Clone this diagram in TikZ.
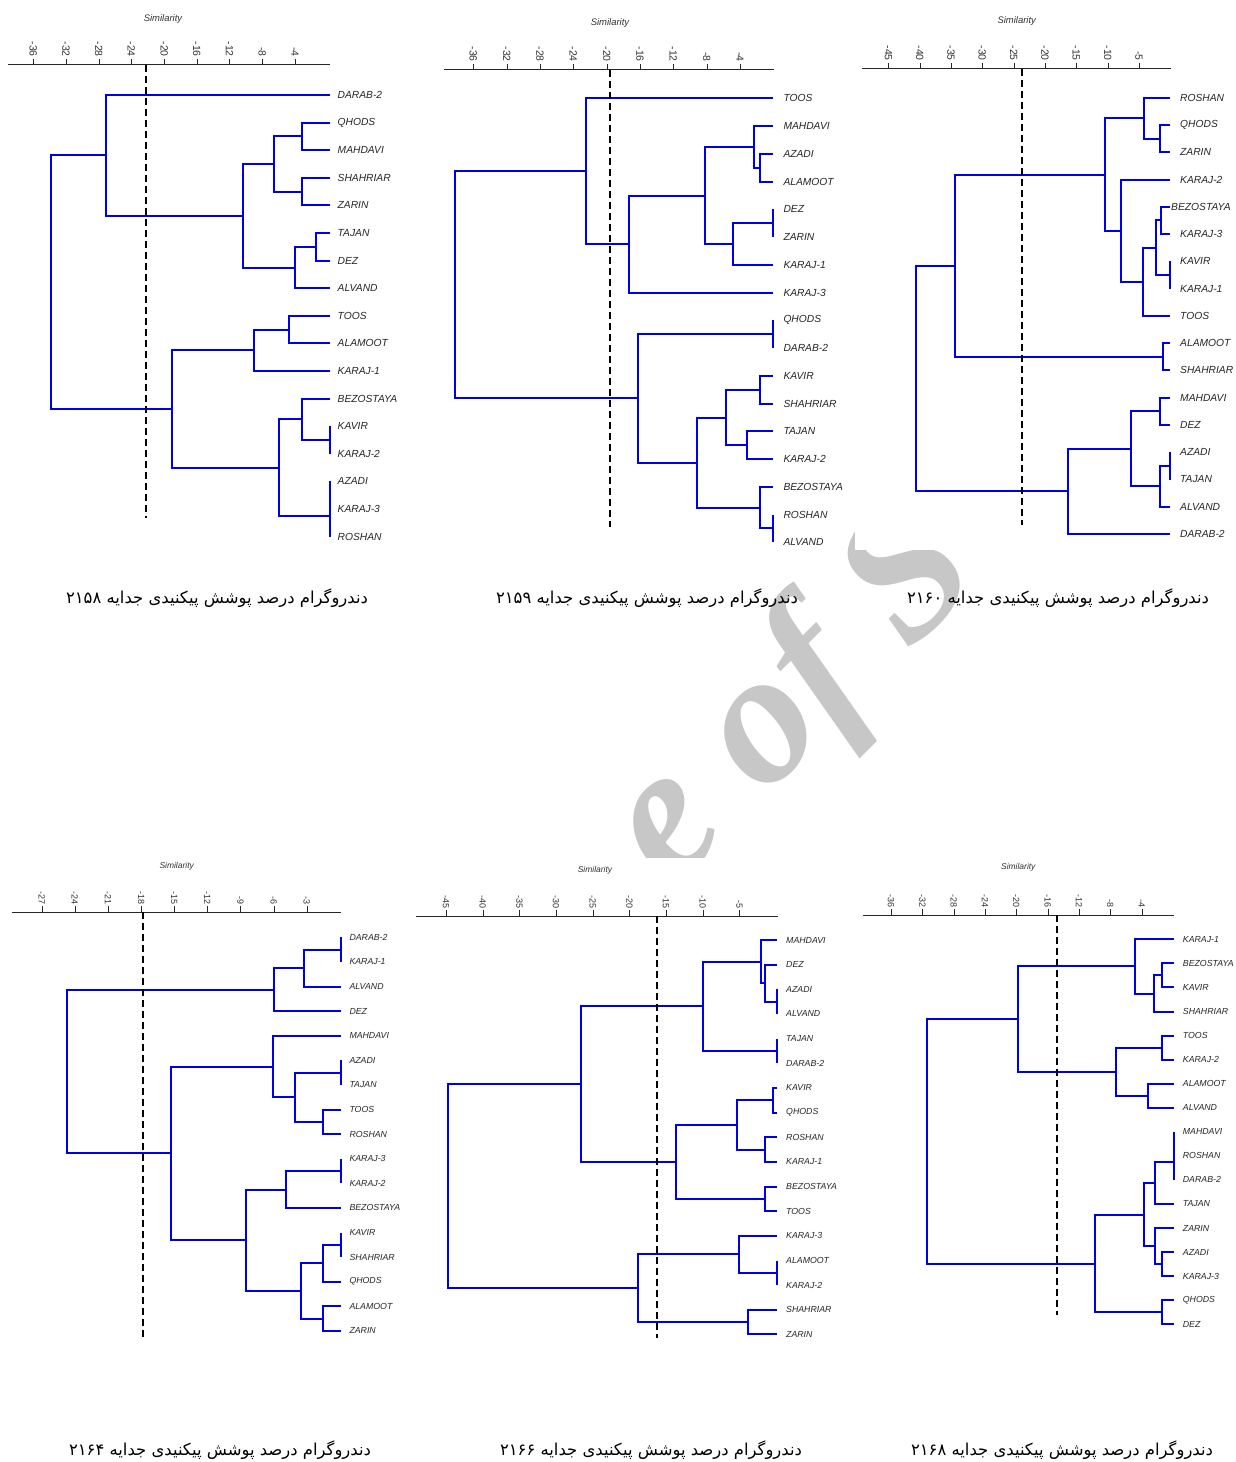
\documentclass[tikz,border=0pt]{standalone}
\usepackage{fontspec}
\usetikzlibrary{positioning}
\newfontfamily\lblfont{Liberation Sans}
\newfontfamily\markfont{Liberation Serif}
\newfontfamily\arabicfont[Script=Arabic]{DejaVu Sans}
\TeXXeTstate=1
\definecolor{TreeBlue}{RGB}{0,0,228}
\definecolor{LeafGray}{RGB}{38,38,38}
\tikzset{
  tree/.style={TreeBlue, line width=2bp},
  cutline/.style={black, line width=2bp, dash pattern=on 7bp off 4bp},
  axisline/.style={black!85, line width=1bp},
  leaf/.style={anchor=west, inner sep=0pt, text=LeafGray, font=\lblfont\itshape\fontsize{10.3}{12}\selectfont},
  leafsm/.style={leaf, font=\lblfont\itshape\fontsize{8.8}{10}\selectfont},
  ticklbl/.style={rotate=-90, anchor=east, inner sep=0pt, text=black!80, font=\lblfont\fontsize{10.5}{12}\selectfont},
  ticklblsm/.style={ticklbl, font=\lblfont\fontsize{9}{10}\selectfont},
  simtitle/.style={inner sep=0pt, text=black!80, font=\lblfont\itshape\fontsize{9.5}{11}\selectfont},
  caption/.style={inner sep=0pt, text=black, font=\arabicfont\fontsize{16.5}{18}\selectfont},
  wmark/.style={inner sep=0pt, rotate=45, anchor=base, text=black!22, font=\markfont\bfseries\itshape\fontsize{190}{190}\selectfont}
}

\begin{document}
\begin{tikzpicture}[x=1bp,y=-1bp]
\fill[white] (0,0) rectangle (1235,1462);
\useasboundingbox (0,0) rectangle (1235,1462);

% watermark, under the panels
\node[wmark] (mark1) at (701,861) {e};
\node[wmark] (mark2) at (820,742) {of};
\node[wmark] (mark3) at (947,615) {S};
\foreach \xa/\ya/\xb/\yb in {0/0/405/556, 440/6/840/556, 855/0/1235/550,
    0/855/412/1345, 420/858/840/1345, 855/855/1235/1345}
  \fill[white] (\xa,\ya) rectangle (\xb,\yb);

% ---- 2158 (top left)
\node[simtitle] (sim1) at (163,19) {Similarity};
\draw[axisline] (8,65) -- (330,65);
\foreach \v [count=\i from 0] in {-36,-32,-28,-24,-20,-16,-12,-8,-4} {
  \draw[axisline] ({round(33.3+\i*32.7)},59) -- ({round(33.3+\i*32.7)},65);
  \node[ticklbl] at ({33.3+\i*32.7},57) {\v};
}
\foreach \n [count=\i from 0] in {DARAB-2,QHODS,MAHDAVI,SHAHRIAR,ZARIN,TAJAN,DEZ,ALVAND,
    TOOS,ALAMOOT,KARAJ-1,BEZOSTAYA,KAVIR,KARAJ-2,AZADI,KARAJ-3,ROSHAN}
  \node[leaf] (a\i) at (337.5,{95+\i*27.6}) {\n};
\foreach \xa/\ya/\xm/\xb/\yb in {
    329.5/122.6/302.3/329.5/150.2, 329.5/177.8/302.3/329.5/205.4,
    302.3/136.4/274.3/302.3/191.6, 329.5/233/316/329.5/260.6,
    316/246.8/295/329.5/288.2, 274.3/164/242.7/295/267.5,
    329.5/95/106/242.7/215.8, 329.5/315.8/288.7/329.5/343.4,
    288.7/329.6/254.3/329.5/371, 329.5/426.2/329.5/329.5/453.8,
    329.5/398.6/302.3/329.5/440, 329.5/481.4/329.5/329.5/536.6,
    302.3/419.3/279.3/329.5/515.9, 254.3/350.3/172/279.3/467.6,
    106/155.4/50.7/172/409}
  \draw[tree] ({round(\xa)},{round(\ya)}) -| ({round(\xm)},{round(\yb)}) -- ({round(\xb)},{round(\yb)});
\draw[cutline] (146,65) -- (146,518);
\node[caption] (cap1) at (217,598) {\beginR دندروگرام درصد پوشش پیکنیدی جدایه \beginL۲۱۵۸\endL\endR};

% ---- 2159 (top middle)
\node[simtitle] (sim2) at (610,22.7) {Similarity};
\draw[axisline] (444,70) -- (774,70);
\foreach \v [count=\i from 0] in {-36,-32,-28,-24,-20,-16,-12,-8,-4} {
  \draw[axisline] ({round(473.3+\i*33.33)},64) -- ({round(473.3+\i*33.33)},70);
  \node[ticklbl] at ({473.3+\i*33.33},62) {\v};
}
\foreach \n [count=\i from 0] in {TOOS,MAHDAVI,AZADI,ALAMOOT,DEZ,ZARIN,KARAJ-1,KARAJ-3,
    QHODS,DARAB-2,KAVIR,SHAHRIAR,TAJAN,KARAJ-2,BEZOSTAYA,ROSHAN,ALVAND}
  \node[leaf] (b\i) at (783.3,{98.3+\i*27.75}) {\n};
\foreach \xa/\ya/\xm/\xb/\yb in {
    773.3/153.8/760/773.3/181.6, 773.3/126.1/754.3/760/167.7,
    773.3/209.3/773.3/773.3/237.1, 773.3/223.2/732.7/773.3/264.8,
    754.3/146.9/705/732.7/244, 705/195.5/629.3/773.3/292.6,
    773.3/98.3/586/629.3/244, 773.3/320.3/773.3/773.3/348.1,
    773.3/375.8/760/773.3/403.6, 773.3/431.3/747.3/773.3/459.1,
    760/389.7/725.7/747.3/445.2, 773.3/514.6/773.3/773.3/542.3,
    773.3/486.8/760/773.3/528.4, 725.7/417.5/696.7/760/507.6,
    773.3/334.2/638.3/696.7/462.6, 586/171.2/455/638.3/398.4}
  \draw[tree] ({round(\xa)},{round(\ya)}) -| ({round(\xm)},{round(\yb)}) -- ({round(\xb)},{round(\yb)});
\draw[cutline] (610,70) -- (610,527);
\node[caption] (cap2) at (647,598) {\beginR دندروگرام درصد پوشش پیکنیدی جدایه \beginL۲۱۵۹\endL\endR};

% ---- 2160 (top right)
\node[simtitle] (sim3) at (1016.7,21) {Similarity};
\draw[axisline] (862,69) -- (1171,69);
\foreach \v [count=\i from 0] in {-45,-40,-35,-30,-25,-20,-15,-10,-5} {
  \draw[axisline] ({round(888.3+\i*31.33)},63) -- ({round(888.3+\i*31.33)},69);
  \node[ticklbl] at ({888.3+\i*31.33},61) {\v};
}
\foreach \n/\dx [count=\i from 0] in {ROSHAN/0,QHODS/0,ZARIN/0,KARAJ-2/0,BEZOSTAYA/-9,
    KARAJ-3/0,KAVIR/0,KARAJ-1/0,TOOS/0,ALAMOOT/0,SHAHRIAR/0,MAHDAVI/0,DEZ/0,AZADI/0,
    TAJAN/0,ALVAND/0,DARAB-2/0}
  \node[leaf] (c\i) at ({1180+\dx},{97.7+\i*27.27}) {\n};
\foreach \xa/\ya/\xm/\xb/\yb in {
    1170/125/1160/1170/152.2, 1170/97.7/1144.3/1160/138.6,
    1170/206.8/1160.7/1170/234.1, 1170/261.3/1170/1170/288.6,
    1160.7/220.4/1155.7/1170/275, 1155.7/247.7/1142.7/1170/315.9,
    1170/179.5/1120.7/1142.7/281.8, 1144.3/118.2/1105/1120.7/230.7,
    1170/343.1/1162.7/1170/370.4, 1105/174.5/955/1162.7/356.8,
    1170/397.7/1160/1170/424.9, 1170/452.2/1170/1170/479.5,
    1170/465.9/1160/1170/506.7, 1160/411.3/1131/1160/486.3,
    1131/448.8/1068.3/1170/534, 955/265.7/915.7/1068.3/491.4}
  \draw[tree] ({round(\xa)},{round(\ya)}) -| ({round(\xm)},{round(\yb)}) -- ({round(\xb)},{round(\yb)});
\draw[cutline] (1022,69) -- (1022,525);
\node[caption] (cap3) at (1058,598) {\beginR دندروگرام درصد پوشش پیکنیدی جدایه \beginL۲۱۶۰\endL\endR};

% ---- 2164 (bottom left)
\node[simtitle, font=\lblfont\itshape\fontsize{8.5}{10}\selectfont] (sim4) at (176.7,866.7) {Similarity};
\draw[axisline] (12,912) -- (341,912);
\foreach \v [count=\i from 0] in {-27,-24,-21,-18,-15,-12,-9,-6,-3} {
  \draw[axisline] ({round(41.7+\i*33.13)},906) -- ({round(41.7+\i*33.13)},912);
  \node[ticklblsm] at ({41.7+\i*33.13},904.5) {\v};
}
\foreach \n [count=\i from 0] in {DARAB-2,KARAJ-1,ALVAND,DEZ,MAHDAVI,AZADI,TAJAN,TOOS,
    ROSHAN,KARAJ-3,KARAJ-2,BEZOSTAYA,KAVIR,SHAHRIAR,QHODS,ALAMOOT,ZARIN}
  \node[leafsm] (d\i) at (349.3,{937.3+\i*24.6}) {\n};
\foreach \xa/\ya/\xm/\xb/\yb in {
    341/937.3/341/341/961.9, 341/949.6/304/341/986.5,
    304/968.1/274/341/1011.1, 341/1060.3/341/341/1084.9,
    341/1109.5/323.3/341/1134.1, 341/1072.6/295/323.3/1121.8,
    341/1035.7/272.7/295/1097.2, 341/1158.7/341/341/1183.3,
    341/1171/286/341/1207.9, 341/1232.5/341/341/1257.1,
    341/1244.8/323.3/341/1281.7, 341/1306.3/323.3/341/1330.9,
    323.3/1263.3/301/323.3/1318.6, 286/1189.5/245.7/301/1291,
    272.7/1066.5/171/245.7/1240.3, 274/989.6/66.7/171/1153.4}
  \draw[tree] ({round(\xa)},{round(\ya)}) -| ({round(\xm)},{round(\yb)}) -- ({round(\xb)},{round(\yb)});
\draw[cutline] (143,912) -- (143,1337);
\node[caption] (cap4) at (220,1450) {\beginR دندروگرام درصد پوشش پیکنیدی جدایه \beginL۲۱۶۴\endL\endR};

% ---- 2166 (bottom middle)
\node[simtitle, font=\lblfont\itshape\fontsize{8.5}{10}\selectfont] (sim5) at (595,870) {Similarity};
\draw[axisline] (416,916) -- (778,916);
\foreach \v [count=\i from 0] in {-45,-40,-35,-30,-25,-20,-15,-10,-5} {
  \draw[axisline] ({round(446+\i*36.67)},910) -- ({round(446+\i*36.67)},916);
  \node[ticklblsm] at ({446+\i*36.67},908.5) {\v};
}
\foreach \n [count=\i from 0] in {MAHDAVI,DEZ,AZADI,ALVAND,TAJAN,DARAB-2,KAVIR,QHODS,
    ROSHAN,KARAJ-1,BEZOSTAYA,TOOS,KARAJ-3,ALAMOOT,KARAJ-2,SHAHRIAR,ZARIN}
  \node[leafsm] (e\i) at (786,{940+\i*24.65}) {\n};
\foreach \xa/\ya/\xm/\xb/\yb in {
    776.7/989.3/776.7/776.7/1014, 776.7/964.7/765/776.7/1001.6,
    776.7/940/761/765/983.1, 776.7/1038.6/776.7/776.7/1063.3,
    761/961.6/703.3/776.7/1050.9, 776.7/1087.9/773.3/776.7/1112.6,
    776.7/1137.2/765/776.7/1161.9, 773.3/1100.2/736.7/765/1149.5,
    776.7/1186.5/765/776.7/1211.2, 736.7/1124.9/675.7/765/1198.8,
    703.3/1006.3/581/675.7/1161.9, 776.7/1260.5/776.7/776.7/1285.1,
    776.7/1235.8/739.3/776.7/1272.8, 776.7/1309.8/747.7/776.7/1334.4,
    739.3/1254.3/637.7/747.7/1322.1, 581/1084.1/447.7/637.7/1288.2}
  \draw[tree] ({round(\xa)},{round(\ya)}) -| ({round(\xm)},{round(\yb)}) -- ({round(\xb)},{round(\yb)});
\draw[cutline] (657,916) -- (657,1338);
\node[caption] (cap5) at (651,1450) {\beginR دندروگرام درصد پوشش پیکنیدی جدایه \beginL۲۱۶۶\endL\endR};

% ---- 2168 (bottom right)
\node[simtitle, font=\lblfont\itshape\fontsize{8.5}{10}\selectfont] (sim6) at (1018.3,867.3) {Similarity};
\draw[axisline] (863,915) -- (1174,915);
\foreach \v [count=\i from 0] in {-36,-32,-28,-24,-20,-16,-12,-8,-4} {
  \draw[axisline] ({round(891+\i*31.33)},909) -- ({round(891+\i*31.33)},915);
  \node[ticklblsm] at ({891+\i*31.33},907.8) {\v};
}
\foreach \n [count=\i from 0] in {KARAJ-1,BEZOSTAYA,KAVIR,SHAHRIAR,TOOS,KARAJ-2,ALAMOOT,ALVAND,
    MAHDAVI,ROSHAN,DARAB-2,TAJAN,ZARIN,AZADI,KARAJ-3,QHODS,DEZ}
  \node[leafsm] (f\i) at (1182.7,{939.3+\i*24.06}) {\n};
\foreach \xa/\ya/\xm/\xb/\yb in {
    1174.3/963.4/1161.7/1174.3/987.4, 1161.7/975.4/1154.3/1174.3/1011.5,
    1174.3/939.3/1135/1154.3/993.5, 1174.3/1035.5/1161.7/1174.3/1059.6,
    1174.3/1083.7/1148.3/1174.3/1107.7, 1161.7/1047.6/1115.7/1148.3/1095.7,
    1135/966.4/1018.3/1115.7/1071.7, 1174.3/1131.8/1174.3/1174.3/1179.9,
    1174.3/1161.9/1155/1174.3/1204, 1174.3/1252.1/1161.7/1174.3/1276.1,
    1174.3/1228/1155/1161.7/1264.1, 1155/1183/1144/1155/1246.1,
    1174.3/1300.2/1161.7/1174.3/1324.3, 1144/1214.6/1095/1161.7/1312.3,
    1018.3/1019.1/927.3/1095/1263.5}
  \draw[tree] ({round(\xa)},{round(\ya)}) -| ({round(\xm)},{round(\yb)}) -- ({round(\xb)},{round(\yb)});
\draw[cutline] (1057,915) -- (1057,1315);
\node[caption] (cap6) at (1062,1450) {\beginR دندروگرام درصد پوشش پیکنیدی جدایه \beginL۲۱۶۸\endL\endR};
\end{tikzpicture}
\end{document}
